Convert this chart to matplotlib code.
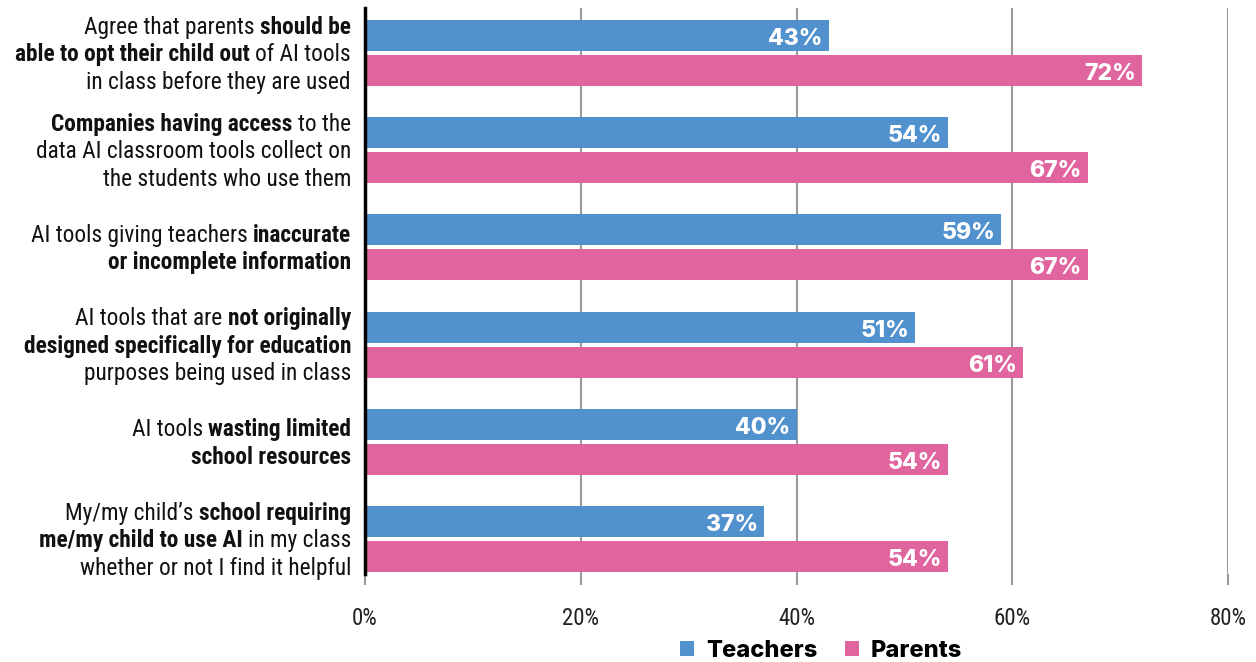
import matplotlib
matplotlib.use('Agg')
import matplotlib.pyplot as plt
from matplotlib import font_manager as fm
from matplotlib.patches import Patch
from matplotlib.font_manager import FontProperties
import numpy as np

# ---------------- data ----------------
categories = [
    "Agree that parents **should be**\n**able to opt their child out** of AI tools\nin class before they are used",
    "**Companies having access** to the\ndata AI classroom tools collect on\nthe students who use them",
    "AI tools giving teachers **inaccurate**\n**or incomplete information**",
    "AI tools that are **not originally**\n**designed specifically for education**\npurposes being used in class",
    "AI tools **wasting limited**\n**school resources**",
    "My/my child\u2019s **school requiring**\n**me/my child to use AI** in my class\nwhether or not I find it helpful",
]
teachers = [43, 54, 59, 51, 40, 37]
parents = [72, 67, 67, 61, 54, 54]
series_names = ["Teachers", "Parents"]
x_ticks = [0, 20, 40, 60, 80]
x_tick_labels = ["0%", "20%", "40%", "60%", "80%"]

# ---------------- style ----------------
BLUE = "#5191CD"
PINK = "#E0659F"
GRID = "#9a9a9a"

names = {f.name for f in fm.fontManager.ttflist}


def pick(cands):
    for c in cands:
        if c in names:
            return c
    return "DejaVu Sans"


COND = pick(["Roboto Condensed", "Liberation Sans Narrow", "Roboto", "DejaVu Sans"])
VALF = pick(["Inter", "Liberation Sans", "DejaVu Sans"])

W, H = 1256, 662
fig = plt.figure(figsize=(W / 100, H / 100), dpi=100)
ax_left, ax_right, ax_top, ax_bot = 365, 1228, 8, 574
ax = fig.add_axes([ax_left / W, 1 - ax_bot / H, (ax_right - ax_left) / W, (ax_bot - ax_top) / H])

n = len(categories)
y = np.arange(n)
bh = 0.32
off = 0.18
ax.barh(y - off, teachers, height=bh, color=BLUE, zorder=3)
ax.barh(y + off, parents, height=bh, color=PINK, zorder=3)

ax.set_xlim(0, 80)
ax.set_ylim(5.36, -0.463)
ax.set_xticks(x_ticks)
ax.set_xticklabels(x_tick_labels, fontfamily=COND, fontsize=16.5, color="#222222")
ax.grid(axis="x", color=GRID, lw=1.5, zorder=0)
ax.set_axisbelow(True)
for s in ["top", "right", "bottom"]:
    ax.spines[s].set_visible(False)
ax.spines["left"].set_color("black")
ax.spines["left"].set_linewidth(2.5)
ax.spines["left"].set_zorder(5)
ax.tick_params(axis="x", length=8, width=1.5, color=GRID, pad=16)
ax.tick_params(axis="y", left=False, labelleft=False)

# value labels
for vals, sign in [(teachers, -1), (parents, 1)]:
    for i, v in enumerate(vals):
        ax.annotate(f"{v}%", xy=(v, i + sign * off), xytext=(-6, -1), textcoords="offset pixels",
                    ha="right", va="center_baseline", color="white", fontweight=800,
                    fontfamily=VALF, fontsize=16.5, zorder=6)

# category labels with mixed bold
renderer = fig.canvas.get_renderer()
LFS = 16.8


def measure(txt, bold):
    t = fig.text(0, 0, txt, fontfamily=COND, fontsize=LFS, fontweight="bold" if bold else "normal")
    w = t.get_window_extent(renderer).width
    t.remove()
    return w


space_w = measure("a a", False) - measure("aa", False)
line_h = 27.5
for i, cat in enumerate(categories):
    lines = cat.split("\n")
    nl = len(lines)
    for li, line in enumerate(lines):
        parts = line.split("**")
        segs = [(p.strip(), k % 2 == 1) for k, p in enumerate(parts) if p.strip()]
        dy = -(li - (nl - 1) / 2) * line_h
        xr = -14
        for txt, bold in reversed(segs):
            t = ax.annotate(txt, xy=(0, i), xycoords=("axes fraction", "data"), xytext=(xr, dy + 1),
                            textcoords="offset pixels", ha="right", va="center_baseline",
                            fontfamily=COND, fontsize=LFS, fontweight="bold" if bold else "normal",
                            color="#111111", annotation_clip=False)
            w = t.get_window_extent(renderer).width
            xr -= w + space_w

# legend
handles = [Patch(facecolor=BLUE), Patch(facecolor=PINK)]
fig.legend(handles, series_names, loc="center", bbox_to_anchor=(821 / W, 1 - 651 / H), ncol=2,
           frameon=False, prop=FontProperties(family=VALF, weight=800, size=17),
           handlelength=0.62, handleheight=0.62, columnspacing=1.15, handletextpad=0.5)

fig.savefig("out.png", dpi=100)
